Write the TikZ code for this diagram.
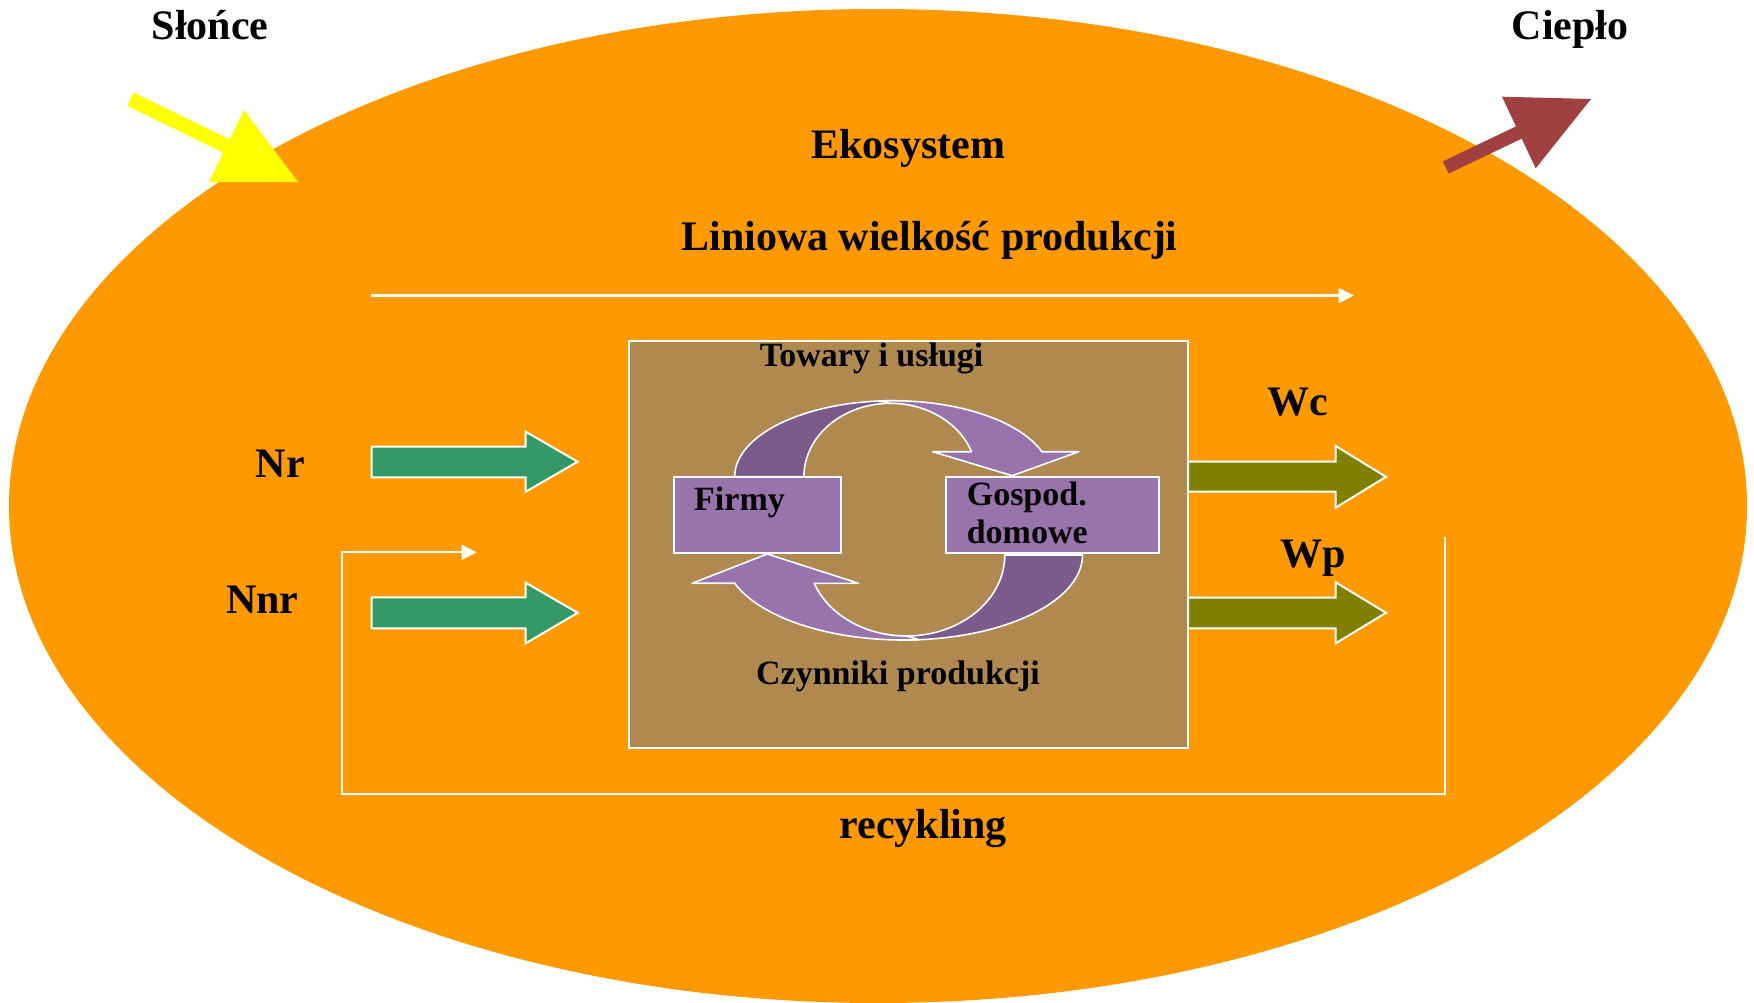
\documentclass[tikz,border=0pt]{standalone}
\usepackage{fontspec}
\setmainfont{Liberation Serif}
\usetikzlibrary{arrows.meta}
\definecolor{ekoorange}{RGB}{255,153,0}
\definecolor{boxbrown}{RGB}{175,137,80}
\definecolor{lightpurple}{RGB}{152,115,172}
\definecolor{darkpurple}{RGB}{122,91,138}
\definecolor{arrgreen}{RGB}{51,153,102}
\definecolor{arrolive}{RGB}{128,128,0}
\definecolor{heatred}{RGB}{160,64,64}
\definecolor{sunyellow}{RGB}{255,255,0}
\newcommand\bigfnt{\fontsize{42}{50}\selectfont\bfseries}
\newcommand\smfnt{\fontsize{34}{40}\selectfont\bfseries}
\begin{document}
\begin{tikzpicture}[x=1pt,y=-1pt,
  bigt/.style={font=\bigfnt,text=black,inner sep=0pt,anchor=base},
  smt/.style={font=\smfnt,text=black,inner sep=0pt,anchor=base},
  blockarr/.style={draw=white,line width=2pt,line join=miter},
  thinarr/.style={draw=white,line width=2.2pt,-{Triangle[length=15pt,width=15pt]}},
  purplebox/.style={draw=white,line width=2pt,fill=lightpurple,inner sep=0pt},
  cycledge/.style={draw=white,line width=1.6pt,line join=round}]
\useasboundingbox (0,0) rectangle (1754,1002);
\fill[white] (0,0) rectangle (1754,1002);
% ecosystem ellipse
\fill[ekoorange] (878,506) ellipse [x radius=869, y radius=497];
% sun arrow
\fill[sunyellow] (133.8,92.6) -- (229.8,139.4) -- (244,110) -- (298,182) -- (209,182) -- (223.2,152.6) -- (127.2,105.8) -- cycle;
% heat arrow
\fill[heatred] (1442.8,161.4) -- (1516,126.4) -- (1502,96.7) -- (1591,99) -- (1535.7,168.3) -- (1521.7,138.6) -- (1448.6,173.6) -- cycle;
% labels top
\node[bigt] (slonce) at (210,39.5) {Słońce};
\node[bigt] (cieplo) at (1570,39.3) {Ciepło};
\node[bigt] (eko) at (908.3,158.3) {Ekosystem};
\node[bigt] (lin) at (929.5,250.7) {Liniowa wielkość produkcji};
% linear production arrow
\coordinate (linA) at (371.4,295.5);
\coordinate (linB) at (1353.7,295.5);
\draw[thinarr] (linA) -- (linB);
% central box
\node[draw=white,line width=2pt,fill=boxbrown,minimum width=559.5pt,minimum height=407pt,inner sep=0pt] (mainbox) at (908.35,544.5) {};
\node[purplebox,minimum width=167.6pt,minimum height=76pt] (firmybox) at (757.4,514.7) {};
\node[purplebox,minimum width=213.1pt,minimum height=76pt] (gospbox) at (1052.15,514.7) {};
% top cycle arrow (towary)
\filldraw[cycledge,fill=darkpurple] plot[domain=180:90,samples=40] ({892.7+158*cos(\x)},{476.7-76*sin(\x)}) -- plot[domain=90:180,samples=40] ({890.3+86.4*cos(\x)},{476.7-73.4*sin(\x)}) -- cycle;
\filldraw[cycledge,fill=lightpurple] plot[domain=95:19.2,samples=40] ({892.7+158*cos(\x)},{476.7-76*sin(\x)}) -- (1078.7,451.7) -- (1012.2,475.7) -- (932.6,451.7) -- plot[domain=19.9:90,samples=40] ({890.3+86.4*cos(\x)},{476.7-73.4*sin(\x)}) -- cycle;
% bottom cycle arrow (czynniki)
\filldraw[cycledge,fill=darkpurple] plot[domain=0:90,samples=40] ({903.5+179*cos(\x)},{555+85*sin(\x)}) -- plot[domain=90:0,samples=40] ({906.4+98.4*cos(\x)},{555+81*sin(\x)}) -- cycle;
\filldraw[cycledge,fill=lightpurple] plot[domain=85:160.6,samples=40] ({903.5+179*cos(\x)},{555+85*sin(\x)}) -- (692.1,583.3) -- (767.2,554) -- (858.6,583.3) -- plot[domain=159.5:90,samples=40] ({906.4+98.4*cos(\x)},{555+81*sin(\x)}) -- cycle;
% box texts
\node[smt] (tow) at (871.6,366) {Towary i usługi};
\node[smt] (czyn) at (898,684) {Czynniki produkcji};
\node[smt,anchor=base west] (firmy) at (694,510) {Firmy};
\node[smt,anchor=base west] (gosp1) at (966.6,505.7) {Gospod.};
\node[smt,anchor=base west] (gosp2) at (966.6,543.3) {domowe};
% input arrows
\filldraw[blockarr,fill=arrgreen] (371.7,446.7) -- (525.7,446.7) -- (525.7,431.7) -- (577.7,461.7) -- (525.7,491.7) -- (525.7,477.3) -- (371.7,477.3) -- cycle;
\filldraw[blockarr,fill=arrgreen] (371.7,597.3) -- (525.7,597.3) -- (525.7,582.7) -- (577.7,612.8) -- (525.7,643.3) -- (525.7,628.3) -- (371.7,628.3) -- cycle;
\node[bigt] (nr) at (280.3,477.3) {Nr};
\node[bigt] (nnr) at (262.2,613.3) {Nnr};
% output arrows
\filldraw[blockarr,fill=arrolive] (1188,461.7) -- (1335.7,461.7) -- (1335.7,446) -- (1386,476.8) -- (1335.7,507.7) -- (1335.7,491.7) -- (1188,491.7) -- cycle;
\filldraw[blockarr,fill=arrolive] (1188,597.7) -- (1335.7,597.7) -- (1335.7,582.3) -- (1386,612.8) -- (1335.7,643.3) -- (1335.7,628.3) -- (1188,628.3) -- cycle;
\node[bigt] (wc) at (1297.8,415) {Wc};
\node[bigt] (wp) at (1313.3,567.3) {Wp};
% recycling loop
\coordinate (recA) at (1445,537.3);
\coordinate (recB) at (341.7,794);
\coordinate (recC) at (476.7,552.3);
\draw[thinarr,line width=2pt] (recA) |- (recB) |- (recC);
\node[bigt] (rec) at (923.3,838.3) {recykling};
\end{tikzpicture}
\end{document}
